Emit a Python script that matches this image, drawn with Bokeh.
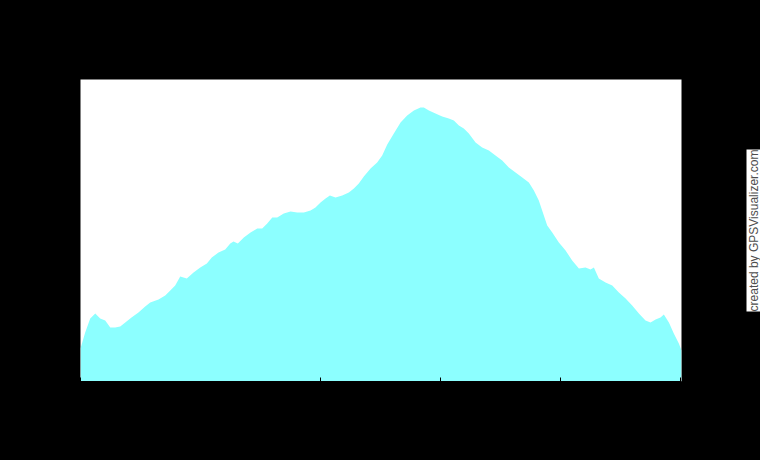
from bokeh.plotting import figure
from bokeh.models import Label, FixedTicker, Range1d, LinearAxis, CustomJSTickFormatter
from bokeh.embed import file_html
from bokeh.resources import INLINE

# distance along the track (km) and elevation (relative units)
distance = [0.000, 0.039, 0.081, 0.123, 0.164, 0.206, 0.248, 0.289, 0.331, 0.373,
            0.425, 0.483, 0.539, 0.581, 0.650, 0.706, 0.748, 0.789, 0.831, 0.858,
            0.886, 0.942, 0.998, 1.053, 1.094, 1.150, 1.206, 1.248, 1.275, 1.311,
            1.361, 1.417, 1.473, 1.514, 1.556, 1.598, 1.639, 1.694, 1.750, 1.806,
            1.861, 1.917, 1.958, 2.000, 2.042, 2.078, 2.125, 2.181, 2.236, 2.278,
            2.319, 2.361, 2.417, 2.472, 2.514, 2.556, 2.611, 2.667, 2.722, 2.778,
            2.833, 2.861, 2.903, 2.958, 3.014, 3.069, 3.111, 3.153, 3.194, 3.236,
            3.292, 3.347, 3.403, 3.458, 3.514, 3.569, 3.625, 3.681, 3.736, 3.778,
            3.819, 3.847, 3.889, 3.931, 3.986, 4.042, 4.097, 4.153, 4.208, 4.250,
            4.278, 4.319, 4.375, 4.431, 4.486, 4.542, 4.597, 4.653, 4.708, 4.750,
            4.792, 4.833, 4.861, 4.903, 4.944, 4.986, 5.008]
elevation = [33, 49, 63, 68, 63, 61, 54, 54, 55, 59,
             64, 69, 75, 79, 82, 86, 91, 96, 105, 104,
             103, 109, 114, 118, 124, 129, 132, 138, 140, 138,
             144, 149, 153, 153, 158, 164, 164, 168, 170, 169,
             169, 171, 174, 179, 183, 186, 184, 186, 189, 193,
             198, 205, 213, 219, 226, 237, 248, 259, 266, 271,
             274, 274, 271, 268, 265, 263, 261, 256, 253, 248,
             239, 234, 231, 226, 221, 214, 209, 204, 199, 191,
             181, 171, 156, 149, 139, 131, 121, 113, 114, 112,
             114, 103, 99, 96, 89, 83, 76, 68, 61, 59,
             62, 64, 67, 59, 48, 38, 31]
x_ticks = [0, 2, 3, 4, 5]
credit = "created by GPSVisualizer.com"

p = figure(width=760, height=460, output_backend="svg", toolbar_location=None,
           x_range=Range1d(0, 5.008), y_range=Range1d(0, 302),
           x_axis_location=None, y_axis_location=None,
           min_border_left=80, min_border_right=79, min_border_top=79, min_border_bottom=79)
p.background_fill_color = "#ffffff"
p.border_fill_color = "#000000"
p.outline_line_color = None
p.grid.visible = False

p.varea(x=distance, y1=0, y2=elevation, fill_color="#8cffff")

xaxis = LinearAxis(ticker=FixedTicker(ticks=x_ticks),
                   formatter=CustomJSTickFormatter(code="return ''"))
xaxis.axis_line_color = "#000000"
xaxis.major_tick_line_color = "#000000"
xaxis.major_tick_in = 4
xaxis.major_tick_out = 4
xaxis.minor_tick_line_color = None
xaxis.major_label_text_font_size = "1px"
p.add_layout(xaxis, "below")

lab = Label(x=72.0, y=151, x_units="screen", y_units="screen", text=credit,
            angle=90, angle_units="deg",
            text_align="center", text_baseline="middle",
            text_font="Liberation Sans", text_font_size="12px", text_color="#4d4d4d",
            background_fill_color="#ffffff", padding=0)
p.add_layout(lab, "right")

html = file_html(p, INLINE)
html = html.replace("</head>", "<style>html,body{background:#000000;}</style></head>", 1)
open("out.html", "w").write(html)
